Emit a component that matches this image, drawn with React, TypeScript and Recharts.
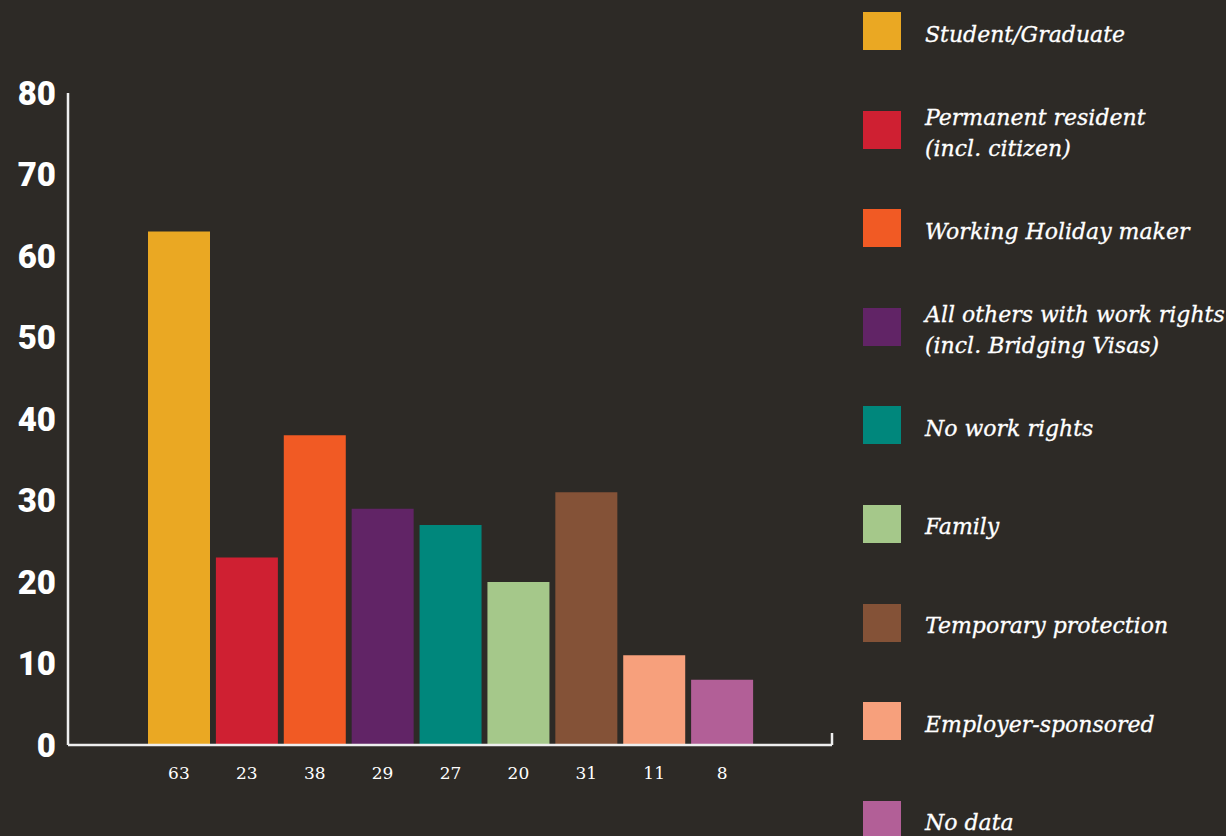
import React from "react";
import { BarChart, Bar, XAxis, YAxis, Cell, Legend, ReferenceLine } from "recharts";

const categories = [
  "Student/Graduate",
  "Permanent resident\n(incl. citizen)",
  "Working Holiday maker",
  "All others with work rights\n(incl. Bridging Visas)",
  "No work rights",
  "Family",
  "Temporary protection",
  "Employer-sponsored",
  "No data",
];
const values = [63, 23, 38, 29, 27, 20, 31, 11, 8];
const colors = ["#eaa823", "#cf2032", "#f15a24", "#612466", "#00877c", "#a5c88a", "#845237", "#f7a07c", "#b25f97"];
const yTicks = [0, 10, 20, 30, 40, 50, 60, 70, 80];

const data = categories.map((c, i) => ({ name: c, value: values[i] }));

const BG = "#2d2a26";
const AXIS = "#eeeeee";

const LegendContent = () => (
  <div style={{ display: "flex", flexDirection: "column" }}>
    {categories.map((c, i) => (
      <div key={i} style={{ display: "flex", alignItems: "center", height: 38, marginBottom: i < categories.length - 1 ? 60.6 : 0 }}>
        <div style={{ width: 38, height: 38, background: colors[i], flex: "0 0 38px" }} />
        <div
          style={{
            marginLeft: 24,
            position: "relative",
            top: 3,
            color: "#ffffff",
            fontFamily: "'DejaVu Serif', serif",
            fontStyle: "italic",
            fontSize: 22,
            lineHeight: "31px",
            whiteSpace: "pre",
            WebkitTextStroke: "0.3px #ffffff",
          }}
        >
          {c}
        </div>
      </div>
    ))}
  </div>
);

const EndTick = (props: any) => {
  const { x2, y2 } = props;
  if (x2 == null || y2 == null) return <g />;
  return <line x1={x2} y1={y2} x2={x2} y2={y2 - 12} stroke={AXIS} strokeWidth={2.5} />;
};

export default function App() {
  return (
    <div style={{ position: "fixed", left: 0, top: 0, width: 1226, height: 836, background: BG, overflow: "hidden" }}>
      <BarChart
        width={1226}
        height={836}
        data={data}
        margin={{ top: 93, right: 394, bottom: 51, left: 0 }}
      >
        <YAxis
          width={68}
          domain={[0, 80]}
          ticks={yTicks}
          interval={0}
          tickLine={false}
          tickSize={0}
          tickMargin={12}
          axisLine={{ stroke: AXIS, strokeWidth: 2.5 }}
          tick={{ fill: "#ffffff", fontFamily: "Roboto, sans-serif", fontWeight: 900, fontSize: 33 }}
        />
        <XAxis
          dataKey="name"
          height={40}
          interval={0}
          padding={{ left: 77, right: 76 }}
          tickLine={false}
          tickSize={0}
          tickMargin={22}
          axisLine={{ stroke: AXIS, strokeWidth: 2.5 }}
          tickFormatter={(_v: any, i: number) => String(values[i])}
          tick={{ fill: "#ffffff", fontFamily: "'DejaVu Serif', serif", fontSize: 17 }}
        />
        <ReferenceLine y={0} stroke="none" shape={EndTick} />
        <Bar dataKey="value" barSize={62} isAnimationActive={false}>
          {data.map((d, i) => (
            <Cell key={i} fill={colors[i]} />
          ))}
        </Bar>
        <Legend
          layout="vertical"
          align="center"
          verticalAlign="middle"
          wrapperStyle={{ left: 863, top: 12, width: 363 }}
          content={<LegendContent />}
        />
      </BarChart>
    </div>
  );
}
